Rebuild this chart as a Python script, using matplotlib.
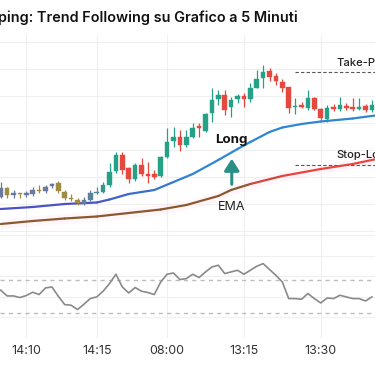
import numpy as np
import matplotlib
matplotlib.use("Agg")
import matplotlib.pyplot as plt
from matplotlib.collections import LineCollection
from matplotlib.colors import to_rgb

# candles (price in points), one per 5-minute bar
opens = [53, 62, 55, 57, 55, 56, 59.5, 59, 64, 67, 58, 51.5, 50, 46, 50, 57, 58, 65, 79, 95,
         82, 71, 85, 76, 76, 74, 93, 109, 113, 105, 113, 124, 119, 137, 151, 155, 143, 151, 154, 151,
         162, 172, 179, 174, 168, 163, 143, 145, 142, 152, 141, 131, 143, 141, 144, 143, 141, 144, 140]
closes = [62, 55, 57, 56.5, 57, 60, 59, 63, 66, 59, 52, 51, 47, 50, 57, 58, 65, 78, 95, 80,
          71, 85, 76, 74, 73, 93, 108, 113, 105, 113, 122, 122, 136, 150, 155, 140, 150, 154, 151, 162,
          171, 178, 173, 169, 162, 142, 144, 143, 152, 141, 132, 142, 141, 145, 142, 141, 143, 140, 145]
highs = [68, 63, 60, 57.5, 59, 63, 65, 65, 67, 69, 60, 56, 52, 53, 60, 63, 68, 87, 98, 98,
         83, 87, 92, 88, 80, 94, 122, 123, 120, 120, 127, 127, 137, 162, 160, 160, 153, 156, 157, 167,
         180, 185, 182, 177, 171, 163, 152, 148, 160, 153, 142, 145, 146, 153, 147, 152, 152, 146, 150]
lows = [52, 52, 52, 52, 53, 54, 57, 57, 62, 57, 50, 49, 45, 45, 49, 56, 57, 63, 77, 76,
        67, 69, 74, 67, 71, 73, 92, 103, 99, 103, 112, 113, 118, 128, 145, 135, 133, 147, 143, 148,
        162, 162, 169, 165, 158, 137, 136, 142, 140, 140, 130, 128, 139, 139, 140, 139, 140, 138, 138]

# fast line (blue) and EMA (brown -> red), read at bar indices
fast_idx = [0, 5, 10, 15, 17, 20, 24, 27, 30, 34, 37, 39, 42, 44, 47, 50, 55, 58.5]
fast_val = [41, 43, 46, 47.5, 50.5, 56, 60, 68, 76, 90, 101, 108, 118, 122.5, 126, 128.5, 131.5, 134.5]
ema_idx = [0, 5, 10, 15, 20, 25, 29, 34, 36, 39, 44, 50, 55, 58.5]
ema_val = [26, 29, 31.5, 33.5, 37, 40.5, 45, 54, 60, 66, 74, 81, 86, 90.7]

# oscillator (RSI)
rsi = [58, 51, 51, 49, 51.5, 55.5, 52.7, 60.7, 61.9, 50.6,
       40.5, 39.7, 34.5, 40.9, 47.8, 49.8, 56.7, 66, 77.3, 61.9,
       54.6, 61.2, 56.7, 55.1, 52.7, 67.9, 77.3, 78.8, 70.8, 72,
       77.3, 73.3, 80.1, 86.1, 88.2, 78.1, 80.1, 82.1, 77.3, 82.1,
       87, 90.2, 83, 76, 67.9, 47.8, 47.8, 47, 53.9, 47.8,
       42.5, 48.5, 47.8, 51.8, 49.8, 47.8, 47.8, 44.9, 49.8]
rsi_levels = [70, 30]

tick_pos = [4, 15, 26, 38, 50]
tick_labels = ["14:10", "14:15", "08:00", "13:15", "13:30"]

take_profit = 178.3
stop_loss = 85
level_start = 46

plt.rcParams["font.family"] = ["Inter", "DejaVu Sans"]

TEAL = "#26a086"
RED = "#e5483f"
SLATE = "#6a7a9e"
OLIVE = "#a08b42"
GRID = "#efefef"


def blend(c1, c2, t):
    a, b = np.array(to_rgb(c1)), np.array(to_rgb(c2))
    return tuple(a + (b - a) * t)


def gradient_line(ax, x, y, c1, c2, t0, t1, lw):
    x = np.asarray(x, float)
    y = np.asarray(y, float)
    pts = np.column_stack([x, y]).reshape(-1, 1, 2)
    segs = np.concatenate([pts[:-1], pts[1:]], axis=1)
    mid = (x[:-1] + x[1:]) / 2
    t = np.clip((mid - t0) / (t1 - t0), 0, 1)
    lc = LineCollection(segs, colors=[blend(c1, c2, v) for v in t], linewidths=lw,
                        capstyle="round", joinstyle="round", zorder=3)
    ax.add_collection(lc)


fig = plt.figure(figsize=(3.75, 3.66), dpi=100)
H = 366
ax = fig.add_axes([0, 1 - 245 / H, 1, 210 / H])
osc = fig.add_axes([0, 1 - 338 / H, 1, 106 / H], sharex=ax)

xlim = (-0.11, 58.48)
n = len(opens)
idx = np.arange(n)

# faint glow along the EMA
ax.fill_between(ema_idx, np.array(ema_val) - 5, np.array(ema_val) + 5,
                color="#ffd9ee", alpha=0.22, lw=0, zorder=1)

for i in idx:
    t = np.clip((i - 13) / 4, 0, 1)
    bull = closes[i] >= opens[i]
    col = blend(SLATE, TEAL, t) if bull else blend(OLIVE, RED, t)
    ax.vlines(i, lows[i], highs[i], color=col, lw=0.9, zorder=4)
    lo = min(opens[i], closes[i])
    h = max(abs(closes[i] - opens[i]), 1.0)
    ax.bar(i, h, bottom=lo, width=0.74, color=col, edgecolor=col, lw=0.3, zorder=5)

gradient_line(ax, fast_idx, fast_val, "#4a52c6", "#2f86d3", 14, 30, 1.6)
gradient_line(ax, ema_idx, ema_val, "#8a5a2e", "#e8453c", 38, 43, 1.6)

# take-profit / stop-loss levels
ax.hlines([take_profit, stop_loss], level_start, xlim[1], colors="#555555",
          linestyles=(0, (3, 2)), lw=0.8, zorder=2)
ax.text(52.5, take_profit + 9, "Take-Profit", fontsize=8.1, fontweight="medium",
        color="#222222", va="center", ha="left")
ax.text(52.5, stop_loss + 10, "Stop-Loss", fontsize=8.1, fontweight="medium",
        color="#222222", va="center", ha="left")

ax.text(36.1, 110, "Long", fontsize=9.6, fontweight="bold", color="#111111",
        ha="center", va="center")
ax.annotate("", xy=(36.1, 94), xytext=(36.1, 63),
            arrowprops=dict(arrowstyle="-|>,head_width=0.45,head_length=0.7",
                            color="#2a8f86", lw=2.2))
ax.text(36.1, 43.3, "EMA", fontsize=9, color="#222222", ha="center", va="center")

ax.set_xlim(*xlim)
ax.set_ylim(5, 215)
ax.set_yticks(np.arange(19, 215, 27))
ax.set_xticks(tick_pos)
ax.grid(True, color=GRID, lw=0.8)
ax.set_axisbelow(True)
ax.tick_params(length=0, labelleft=False, labelbottom=False)
for s in ax.spines.values():
    s.set_visible(False)

# oscillator panel
osc.plot(idx, rsi, color="#8a8a8a", lw=1.2, zorder=3)
osc.hlines(rsi_levels, xlim[0], xlim[1], colors="#bdbdbd",
           linestyles=(0, (3, 3)), lw=1.0, zorder=2)
osc.set_ylim(0, 128.5)
osc.set_yticks([0, 25, 50, 75, 100, 125])
osc.grid(True, color=GRID, lw=0.8)
osc.set_axisbelow(True)
osc.set_xticks(tick_pos)
osc.set_xticklabels(tick_labels)
osc.tick_params(length=0, labelleft=False, labelsize=9, labelcolor="#333333", pad=5)
for s in osc.spines.values():
    s.set_visible(False)

fig.text(298 / 375, 1 - 18 / H, "Scalping: Trend Following su Grafico a 5 Minuti",
         ha="right", va="center", fontsize=10.4, fontweight="semibold", color="#111111")

fig.savefig("out.png", dpi=100)
